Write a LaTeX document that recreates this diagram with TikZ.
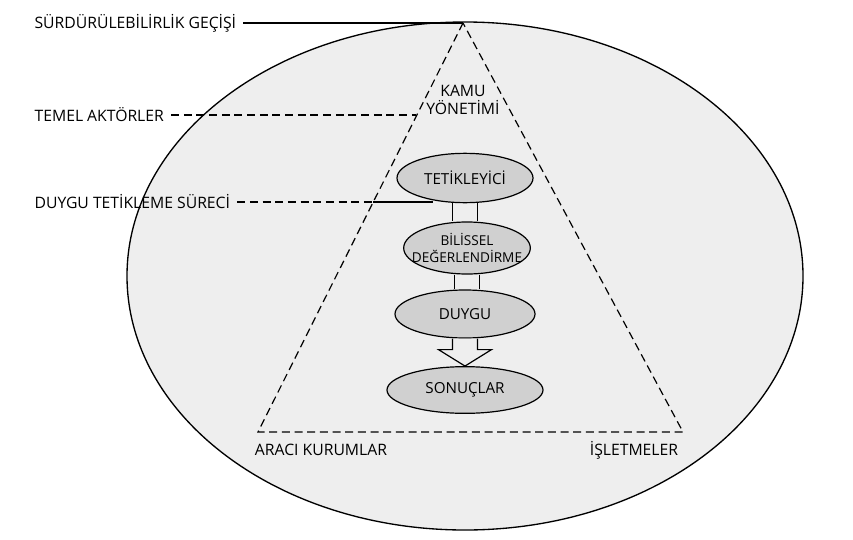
\documentclass[tikz,border=0pt]{standalone}
\usepackage{fontspec}
\setmainfont{Open Sans}
\usepackage{tikz}
\usetikzlibrary{shapes,arrows,positioning,calc}
\definecolor{bgray}{HTML}{EEEEEE}
\definecolor{sgray}{HTML}{D0D0D0}

\begin{document}
\begin{tikzpicture}[x=0.75pt,y=-0.75pt,line width=0.9pt,
    lbl/.style={font=\fontsize{11.8}{14}\selectfont,inner sep=0pt,align=center},
    sttxt/.style={font=\fontsize{11.4}{13}\selectfont,inner sep=0pt,align=center},
    stage/.style={ellipse,draw,fill=sgray,inner sep=0pt},
    dsh/.style={dash pattern=on 6pt off 3.5pt}]
    \useasboundingbox (0,0) rectangle (853,539);
    % outer ellipse and triangle
    \draw[fill=bgray,line width=1pt] (465,276) ellipse [x radius=338, y radius=254];
    \coordinate (top) at (463,23);
    \coordinate (bl) at (258,432);
    \coordinate (br) at (683,432);
    \draw[dsh] (top) -- (bl) -- (br) -- cycle;
    % labels
    \node[lbl,anchor=west] (sur) at (34,23) {SÜRDÜRÜLEBİLİRLİK GEÇİŞİ};
    \node[lbl,anchor=west] (tem) at (34,115) {TEMEL AKTÖRLER};
    \node[lbl,anchor=west] (dts) at (34,202) {DUYGU TETİKLEME SÜRECİ};
    \node[lbl] (kamu) at (463,100) {KAMU\\YÖNETİMİ};
    \node[lbl] (araci) at (321,450) {ARACI KURUMLAR};
    \node[lbl] (isl) at (634,450) {İŞLETMELER};
    % stages
    \node[stage,minimum width=102pt,minimum height=37pt,
        label={[sttxt]center:TETİKLEYİCİ}] (tet) at (465,178) {};
    \node[stage,minimum width=95pt,minimum height=39pt,
        label={[sttxt,font=\fontsize{10.2}{12.5}\selectfont]center:BİLİSSEL\\DEĞERLENDİRME}] (bil) at (467,248) {};
    \node[stage,minimum width=105pt,minimum height=36pt,
        label={[sttxt]center:DUYGU}] (duy) at (465,314) {};
    \node[stage,minimum width=117pt,minimum height=35pt,
        label={[sttxt]center:SONUÇLAR}] (son) at (465,390) {};
    % pointers
    \coordinate (ta) at ($(top)!0.227!(bl)$);
    \coordinate (tb) at ($(top)!0.437!(bl)$);
    \draw ([xshift=5pt]sur.east) -- (top);
    \draw[dsh] ([xshift=5pt]tem.east) -- (tem.east -| ta);
    \draw[dsh] ([xshift=5pt]dts.east) -- (dts.east -| tb);
    \draw (dts.east -| tb) -- (dts.east -| tet.-145);
    % connectors
    \foreach \a/\b in {tet/bil,bil/duy}{
        \draw ([xshift=-9.4pt]\a.south) -- ([xshift=-9.4pt]\a.south |- \b.north);
        \draw ([xshift=9.4pt]\a.south) -- ([xshift=9.4pt]\a.south |- \b.north);
    }
    \draw[fill=bgray] ([xshift=-9.4pt]duy.south) -- ++(0,11) -- ++(-14,0)
        -- (son.north) -- ($(duy.south)+(26.5,11)$) -- ++(-14,0)
        -- ([xshift=9.4pt]duy.south);
\end{tikzpicture}
\end{document}
